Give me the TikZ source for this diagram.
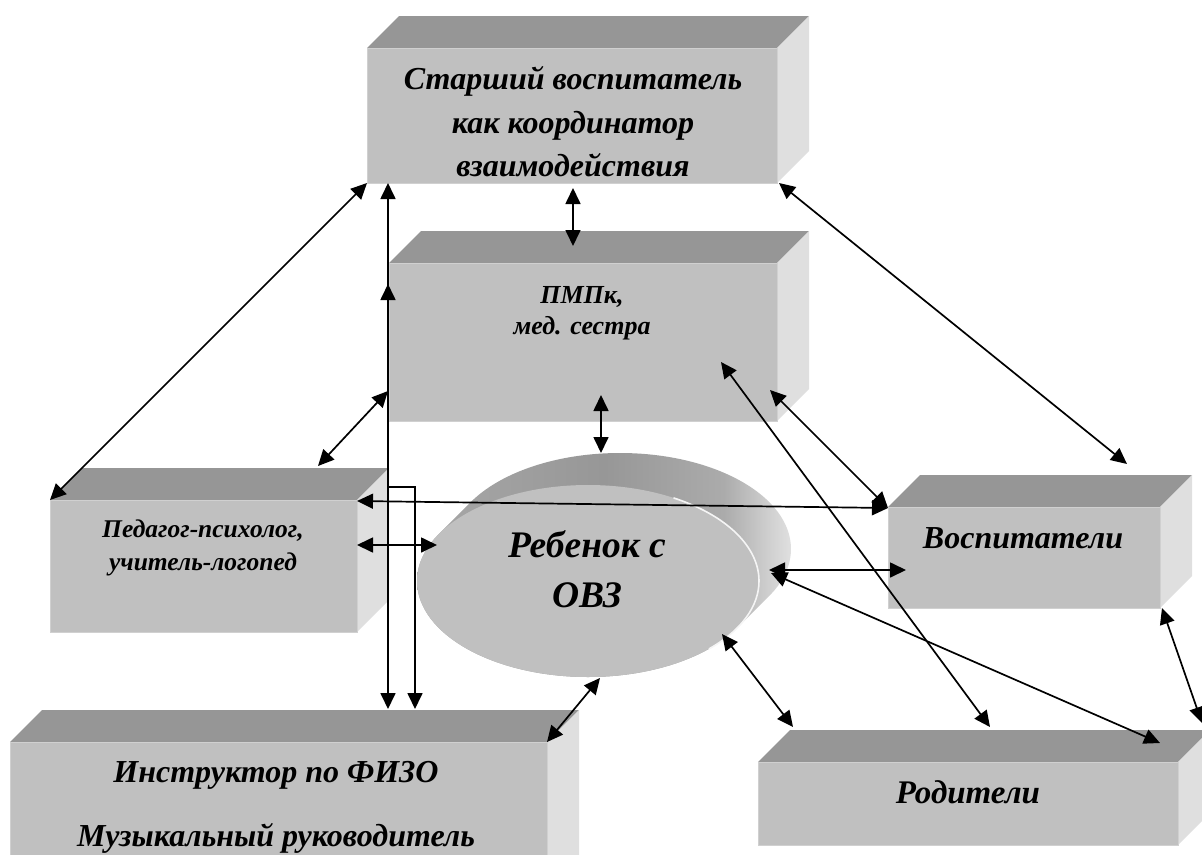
\documentclass[tikz,border=0pt]{standalone}
\usepackage{fontspec}
\setmainfont{Liberation Serif}
\usetikzlibrary{arrows.meta,calc,shapes.geometric}

\definecolor{frontc}{HTML}{C0C0C0}
\definecolor{topc}{HTML}{969696}
\definecolor{sidec}{HTML}{DFDFDF}
\definecolor{edgec}{HTML}{D0D0D0}
\definecolor{ex1}{HTML}{A8A8A8}
\definecolor{ex2}{HTML}{979797}
\definecolor{ex3}{HTML}{ABABAB}
\definecolor{ex4}{HTML}{CFCFCF}
\definecolor{ex5}{HTML}{E0E0E0}

\pgfdeclarehorizontalshading{extrusion}{100bp}{%
  color(0bp)=(ex1); color(25bp)=(ex1); color(50bp)=(ex2); color(66bp)=(ex3);
  color(72bp)=(ex4); color(75bp)=(ex5); color(100bp)=(ex5)}

\tikzset{
  frontbox/.style={rectangle, fill=frontc, draw=edgec, line width=0.8pt, inner sep=0pt, outer sep=0pt},
  lbl/.style={inner sep=0pt, outer sep=0pt, anchor=base, text=black},
  link/.style={{Triangle[length=16pt,width=15pt]}-{Triangle[length=16pt,width=15pt]}, line width=1.7pt, black},
}

% name, left, top, right, bottom (front face, image coordinates)
\newcommand{\cubebox}[5]{%
  \fill[topc] (#2,#3) -- (#2+32,#3-32) -- (#4+32,#3-32) -- (#4,#3) -- cycle;
  \fill[sidec] (#4,#3) -- (#4+32,#3-32) -- (#4+32,#5-32) -- (#4,#5) -- cycle;
  \node[frontbox, minimum width={(#4-#2)*1pt}, minimum height={(#5-#3)*1pt}, anchor=north west] (#1) at (#2,#3) {};
}

\begin{document}
\begin{tikzpicture}[x=1pt,y=-1pt]
\useasboundingbox (0,0) rectangle (1202,854);
\clip (0,0) rectangle (1202,854);

% ---------- boxes ----------
\cubebox{senior}{367}{48}{777}{183}
\cubebox{pmpk}{389}{263}{777}{421}
\cubebox{ped}{50}{500}{357}{632}
\cubebox{vosp}{888}{507}{1160}{608}
\cubebox{rod}{758}{762}{1178}{845}
\cubebox{instr}{10}{742}{547}{930}

% ---------- ellipse (child) ----------
\shade[shading=extrusion]
  \foreach \k in {0,...,32}{ (588+\k,581-\k) ellipse [x radius=171pt, y radius=96pt] };
\node[ellipse, fill=frontc, minimum width=342pt, minimum height=192pt, inner sep=0pt, outer sep=0pt] (child) at (588,581) {};
\draw[white!92!gray, line width=1.6pt] (673.5,497.9) arc[start angle=60, end angle=-45, x radius=171pt, y radius=96pt];

% ---------- texts ----------
\begin{scope}[every node/.append style={lbl}]
\node[font=\fontsize{32}{40}\selectfont\bfseries\itshape] (seniorA) at (573,89) {Старший воспитатель};
\node[font=\fontsize{32}{40}\selectfont\bfseries\itshape] (seniorB) at (573,133) {как координатор};
\node[font=\fontsize{32}{40}\selectfont\bfseries\itshape] (seniorC) at (573,176) {взаимодействия};

\node[font=\fontsize{26}{30}\selectfont\bfseries\itshape] (pmpkA) at (582,303) {ПМПк,};
\node[font=\fontsize{26}{30}\selectfont\bfseries\itshape] (pmpkB) at (582,334) {мед. сестра};

\node[font=\fontsize{25.5}{30}\selectfont\bfseries\itshape] (pedA) at (203,537) {Педагог-психолог,};
\node[font=\fontsize{25.5}{30}\selectfont\bfseries\itshape] (pedB) at (203,570) {учитель-логопед};

\node[font=\fontsize{37.5}{44}\selectfont\bfseries\itshape] (childA) at (587,557) {Ребенок с};
\node[font=\fontsize{37.5}{44}\selectfont\bfseries\itshape] (childB) at (587,607) {ОВЗ};

\node[font=\fontsize{32}{36}\selectfont\bfseries\itshape] (vospA) at (1023,548) {Воспитатели};
\node[font=\fontsize{33}{36}\selectfont\bfseries\itshape] (rodA) at (968,803) {Родители};

\node[font=\fontsize{32}{36}\selectfont\bfseries\itshape] (instrA) at (276,782) {Инструктор по ФИЗО};
\node[font=\fontsize{32}{36}\selectfont\bfseries\itshape] (instrB) at (276,846) {Музыкальный руководитель};
\end{scope}

% ---------- connector end points ----------
\coordinate (sLeft)   at (388,183);
\coordinate (iLeft)   at (388,709);
\coordinate (iRight)  at (415,709);
\coordinate (kneeA)   at (415,487);
\coordinate (kneeB)   at (388,487);
\coordinate (pTopL)   at (388,284);
\coordinate (sMid)    at (573,188);
\coordinate (pTopM)   at (573,246);
\coordinate (sRight)  at (779,183);
\coordinate (vTop)    at (1127,464);
\coordinate (pedTop)  at (318,466);
\coordinate (pLowL)   at (388,391);
\coordinate (pBotM)   at (601,395);
\coordinate (cTop)    at (601,453);
\coordinate (pedSide) at (357,501);
\coordinate (vCorner) at (888,508);
\coordinate (pedMid)  at (357,545);
\coordinate (cLeft)   at (437,545);
\coordinate (cRight)  at (769,570);
\coordinate (vMid)    at (906,570);
\coordinate (cLowR)   at (722,634);
\coordinate (rTopL)   at (793,727);
\coordinate (cRight2) at (771,573);
\coordinate (rTopR)   at (1160,743);
\coordinate (cBot)    at (600,678);
\coordinate (iCorner) at (547,742);
\coordinate (pLowR)   at (770,390);
\coordinate (pIn)     at (721,362);
\coordinate (rTopM)   at (990,727);
\coordinate (vBotR)   at (1162,608);
\coordinate (rSide)   at (1202,723);

% ---------- connectors ----------
\draw[link] (senior.south west) -- (ped.north west);
\draw[link] (sLeft) -- (iLeft);
\draw[link] (iRight) -- (kneeA) -- (kneeB) -- (pTopL);
\draw[link] (sMid) -- (pTopM);
\draw[link] (sRight) -- (vTop);
\draw[link] (pedTop) -- (pLowL);
\draw[link] (pBotM) -- (cTop);
\draw[link] (pedSide) -- (vCorner);
\draw[link] (pedMid) -- (cLeft);
\draw[link] (cRight) -- (vMid);
\draw[link] (cLowR) -- (rTopL);
\draw[link] (cRight2) -- (rTopR);
\draw[link] (cBot) -- (iCorner);
\draw[link] (pLowR) -- (vCorner);
\draw[link] (pIn) -- (rTopM);
\draw[link] (vBotR) -- (rSide);
\end{tikzpicture}
\end{document}
